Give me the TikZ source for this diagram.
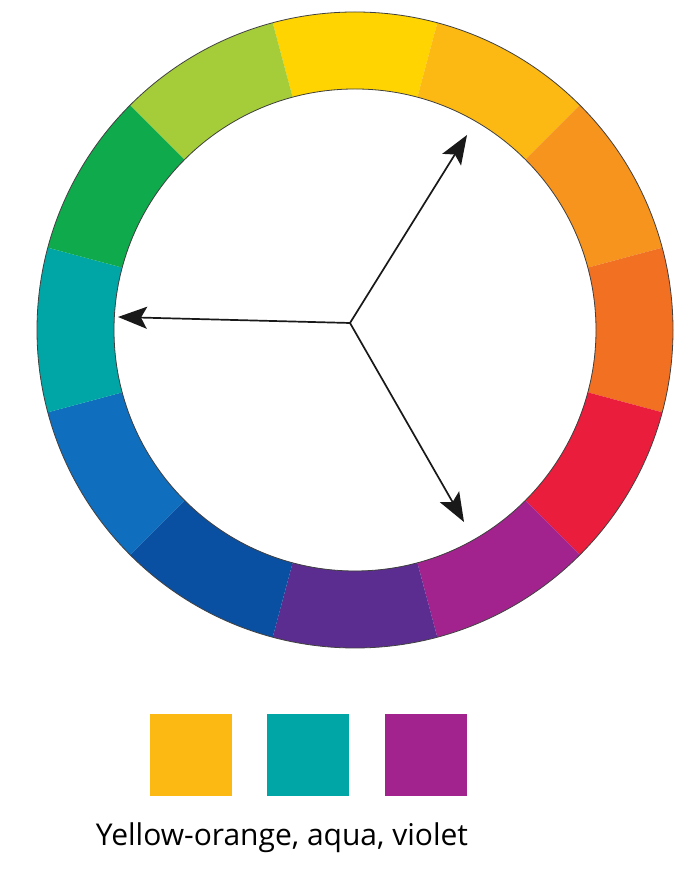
\documentclass[tikz,border=0pt]{standalone}
\usepackage{fontspec}
\setmainfont{Open Sans}
\usetikzlibrary{arrows.meta}
\definecolor{cY}{RGB}{255,212,0}
\definecolor{cYO}{RGB}{253,185,19}
\definecolor{cOY}{RGB}{247,148,29}
\definecolor{cO}{RGB}{241,112,34}
\definecolor{cR}{RGB}{234,29,60}
\definecolor{cRV}{RGB}{163,35,142}
\definecolor{cV}{RGB}{91,45,144}
\definecolor{cBV}{RGB}{10,80,162}
\definecolor{cB}{RGB}{16,110,190}
\definecolor{cA}{RGB}{0,166,166}
\definecolor{cG}{RGB}{14,170,76}
\definecolor{cYG}{RGB}{164,205,57}
\tikzset{
  arrowline/.style={line width=1.7pt, draw=black!90,
    arrows={-Stealth[length=29pt,width=22pt,inset=6pt]}},
  swatch/.style={minimum width=82pt, minimum height=82pt, inner sep=0pt, draw=none},
  ringline/.style={draw=black!75, line width=0.8pt}
}
\begin{document}
\begin{tikzpicture}[x=1pt,y=1pt]
\useasboundingbox (0,0) rectangle (694,869);
\fill[white] (0,0) rectangle (694,869);
\begin{scope}[shift={(355,539)}]
  \foreach \c [count=\k from 0] in {cY,cYO,cOY,cO,cR,cRV,cV,cBV,cB,cA,cG,cYG}{
    \pgfmathsetmacro{\a}{105-30*\k}
    \pgfmathsetmacro{\b}{75-30*\k}
    \fill[\c] (\a:318) arc[start angle=\a, end angle=\b, radius=318]
      -- (\b:241) arc[start angle=\b, end angle=\a, radius=241] -- cycle;
  }
  \draw[ringline] (0,0) circle[radius=318];
  \draw[ringline] (0,0) circle[radius=241];
\end{scope}
\coordinate (ctr) at (350,546);
\coordinate (tipYO) at (467,734);
\coordinate (tipA) at (118,552);
\coordinate (tipV) at (464,347);
\draw[arrowline] (ctr) -- (tipYO);
\draw[arrowline] (ctr) -- (tipA);
\draw[arrowline] (ctr) -- (tipV);
\node[swatch, fill=cYO] (s1) at (191,114) {};
\node[swatch, fill=cA] (s2) at (308,114) {};
\node[swatch, fill=cRV] (s3) at (426,114) {};
\node[font=\fontsize{30}{36}\selectfont, anchor=base] (lbl) at (282,23) {Yellow-orange, aqua, violet};
\end{tikzpicture}
\end{document}
